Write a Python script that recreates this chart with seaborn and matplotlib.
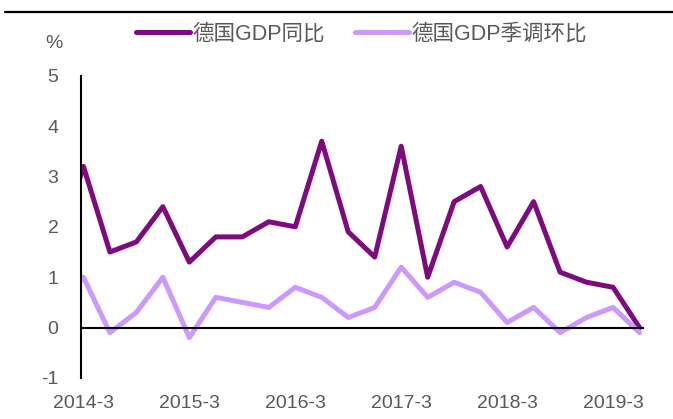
import matplotlib
matplotlib.use('Agg')
import numpy as np
import pandas as pd
import seaborn as sns
import matplotlib.pyplot as plt
from matplotlib.lines import Line2D

# quarterly data, first quarter sits just left of the visible range
quarters = ['2013-12',
            '2014-3', '2014-6', '2014-9', '2014-12',
            '2015-3', '2015-6', '2015-9', '2015-12',
            '2016-3', '2016-6', '2016-9', '2016-12',
            '2017-3', '2017-6', '2017-9', '2017-12',
            '2018-3', '2018-6', '2018-9', '2018-12',
            '2019-3', '2019-6']
gdp_yoy = [1.5,
           3.2, 1.5, 1.7, 2.4,
           1.3, 1.8, 1.8, 2.1,
           2.0, 3.7, 1.9, 1.4,
           3.6, 1.0, 2.5, 2.8,
           1.6, 2.5, 1.1, 0.9,
           0.8, 0.0]
gdp_qoq = [0.4,
           1.0, -0.1, 0.3, 1.0,
           -0.2, 0.6, 0.5, 0.4,
           0.8, 0.6, 0.2, 0.4,
           1.2, 0.6, 0.9, 0.7,
           0.1, 0.4, -0.1, 0.2,
           0.4, -0.1]
tick_labels = ['2014-3', '2015-3', '2016-3', '2017-3', '2018-3', '2019-3']
series_names = ['德国GDP同比', '德国GDP季调环比']
colors = ['#7F0A80', '#CC99FF']

pos = np.arange(len(quarters)) - 1
df = pd.DataFrame({
    'pos': np.concatenate([pos, pos]),
    'value': gdp_yoy + gdp_qoq,
    'series': [series_names[0]] * len(pos) + [series_names[1]] * len(pos),
})

sns.set_style('white')
plt.rcParams['font.family'] = ['Liberation Sans', 'Noto Sans CJK SC']
plt.rcParams['axes.unicode_minus'] = False
text_color = '#595959'

fig = plt.figure(figsize=(6.73, 4.19), dpi=100)
ax = fig.add_axes([0.12, 0.098, 0.835, 0.7213])

sns.lineplot(data=df, x='pos', y='value', hue='series', hue_order=series_names,
             palette=colors, linewidth=3.6, ax=ax, solid_joinstyle='round',
             solid_capstyle='round')

ax.set_xlim(-0.1, 21.12)
ax.set_ylim(-1, 5)
ax.set_yticks(range(-1, 6))
ax.set_xlabel('')
ax.set_ylabel('')

ax.spines['top'].set_visible(False)
ax.spines['right'].set_visible(False)
ax.spines['bottom'].set_position(('data', 0))
for s in ['left', 'bottom']:
    ax.spines[s].set_color('black')
    ax.spines[s].set_linewidth(1.5)

tick_pos = [i * 4 for i in range(len(tick_labels))]
ax.set_xticks(tick_pos)
ax.tick_params(axis='x', direction='in', length=4.5, width=1.5, color='black',
               labelbottom=False)
ax.tick_params(axis='y', direction='in', length=3, width=1.5, color='black',
               pad=16, labelsize=14, labelcolor=text_color)

# tick labels below the plot area
sec = ax.secondary_xaxis(0)
sec.set_xticks(tick_pos, labels=tick_labels)
sec.spines['bottom'].set_visible(False)
sec.tick_params(length=0, pad=12, labelsize=14, labelcolor=text_color)

handles, labels = ax.get_legend_handles_labels()
ax.legend(handles, labels, loc='center', bbox_to_anchor=(0.537, 0.919),
          bbox_transform=fig.transFigure, ncol=2, frameon=False, fontsize=15.5,
          labelcolor=text_color, handlelength=2.5, handletextpad=0.1,
          columnspacing=1.4)

fig.text(54 / 673, 1 - 43 / 419, '%', ha='center', va='center',
         fontsize=14, color=text_color)
fig.add_artist(Line2D([5 / 673, 1], [1 - 12 / 419, 1 - 12 / 419],
                      color='black', linewidth=1.6))

fig.savefig('out.png', dpi=100)
